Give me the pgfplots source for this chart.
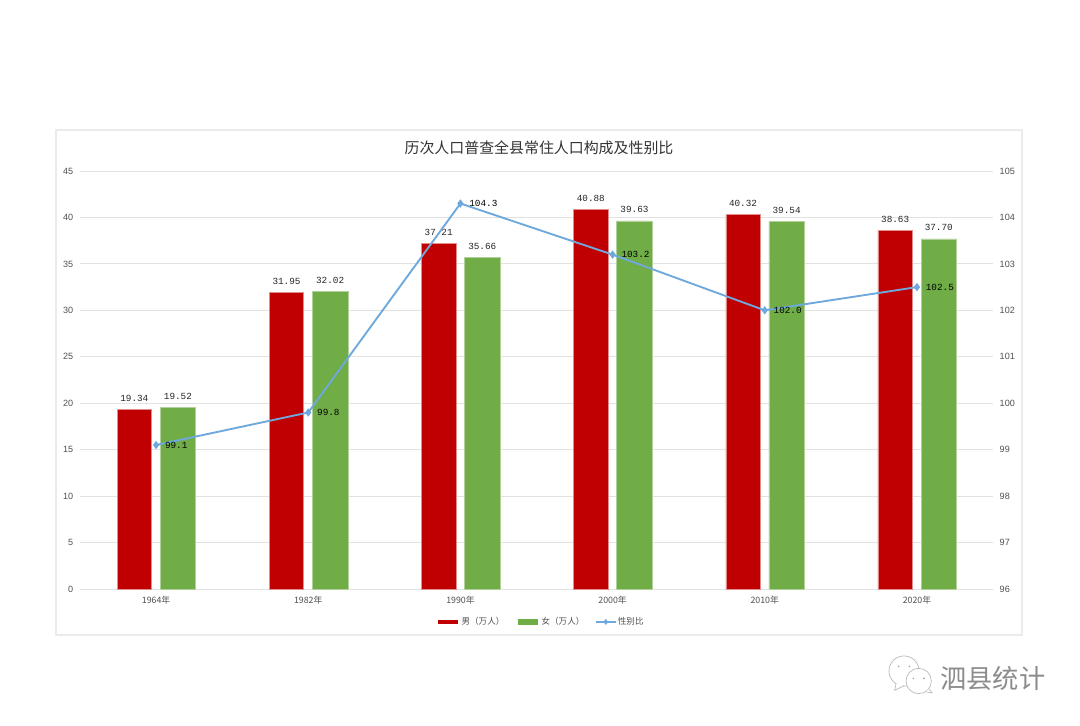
\documentclass[border=0pt]{standalone}
\usepackage{fontspec}
\setmainfont{Liberation Sans}
\newfontfamily\cjk{Noto Sans CJK SC}
\newfontfamily\lab{Liberation Mono}
\usepackage{pgfplots}
\pgfplotsset{compat=1.18}
\definecolor{redbar}{HTML}{C00000}
\definecolor{greenbar}{HTML}{70AD47}
\definecolor{blueline}{HTML}{6FA8DC}
\definecolor{gridc}{HTML}{E2E2E2}
\definecolor{framec}{HTML}{EBEBEB}
\definecolor{tickc}{HTML}{505050}
\pgfplotstableread{
x male female ratio
0 19.34 19.52 99.1
1 31.95 32.02 99.8
2 37.21 35.66 104.3
3 40.88 39.63 103.2
4 40.32 39.54 102.0
5 38.63 37.70 102.5
}\datatable
\begin{document}
\begin{tikzpicture}[x=1pt,y=1pt]
\path[use as bounding box,fill=white] (0,0) rectangle (810,543.75);
% frame: px 56..1022, y 130..635
\draw[draw=framec,line width=1pt,fill=white] (42,67.5) rectangle (766.5,446.25);
\node[text=black!80,font=\cjk\fontsize{11.2pt}{13pt}\selectfont,inner sep=0pt] at (404.25,433) {历次人口普查全县常住人口构成及性别比};
\begin{axis}[
  at={(60pt,102pt)}, anchor=south west,
  width=684.75pt, height=313.5pt, scale only axis,
  xmin=-0.5, xmax=5.5, ymin=0, ymax=45,
  clip=false,
  axis line style={draw=none},
  axis x line*=bottom, axis y line*=left,
  xtick={0,...,5},
  xticklabels={1964年,1982年,1990年,2000年,2010年,2020年},
  x tick label style={font=\cjk\fontsize{6.6pt}{8pt}\selectfont,text=tickc,yshift=-2pt},
  ytick={0,5,...,45},
  y tick label style={font=\fontsize{6.8pt}{8pt}\selectfont,text=tickc,xshift=-1.5pt},
  /pgf/number format/assume math mode=true,
  major tick length=0pt,
  ymajorgrids,
  grid style={draw=gridc,line width=0.75pt},
  legend style={at={(0.5045,-0.0606)},anchor=north,draw=none,fill=none,legend columns=3,
    font=\cjk\fontsize{6.4pt}{8pt}\selectfont,text=tickc,
    nodes={inner xsep=1pt},
    /tikz/every even column/.append style={column sep=7pt},
    inner sep=0pt},
  legend cell align=left,
  legend image code/.code={\draw[mark repeat=2,mark phase=2,#1] plot coordinates {(0pt,0pt) (7.5pt,0pt) (15pt,0pt)};},
  nodes near coords,
  every node near coord/.append style={font=\lab\fontsize{7pt}{8pt}\selectfont,text=black!85,
    /pgf/number format/fixed,/pgf/number format/fixed zerofill,/pgf/number format/precision=2,
    /pgf/number format/assume math mode=true,yshift=2.5pt},
]
\addlegendimage{redbar,line width=3pt}
\addlegendentry{男（万人）}
\addlegendimage{greenbar,line width=4pt}
\addlegendentry{女（万人）}
\addlegendimage{blueline,line width=1.2pt,mark=diamond*,mark size=1.3pt}
\addlegendentry{性别比}
\addplot[ybar,bar width=25.8pt,bar shift=-16.3pt,fill=redbar,draw=redbar!45,line width=0.4pt,
  every node near coord/.append style={xshift=-16.3pt}] table[x=x,y=male]{\datatable};
\addplot[ybar,bar width=26.6pt,bar shift=16.4pt,fill=greenbar,draw=greenbar!55,line width=0.4pt,
  every node near coord/.append style={xshift=16.4pt}] table[x=x,y=female]{\datatable};
\end{axis}
\begin{axis}[
  at={(60pt,102pt)}, anchor=south west,
  width=684.75pt, height=313.5pt, scale only axis,
  xmin=-0.5, xmax=5.5, ymin=96, ymax=105,
  clip=false,
  axis line style={draw=none},
  axis x line=none, axis y line*=right,
  ytick={96,...,105},
  y tick label style={font=\fontsize{6.8pt}{8pt}\selectfont,text=tickc,xshift=1.5pt},
  /pgf/number format/assume math mode=true,
  major tick length=0pt,
]
\addplot[blueline,line width=1.4pt,mark=diamond*,mark size=2pt,
  mark options={fill=blueline,draw=blueline},
  nodes near coords,
  every node near coord/.append style={anchor=west,font=\lab\fontsize{7pt}{8pt}\selectfont,text=black,
    /pgf/number format/fixed,/pgf/number format/fixed zerofill,/pgf/number format/precision=1,
    /pgf/number format/assume math mode=true,xshift=5pt,yshift=0pt,inner sep=1pt},
] table[x=x,y=ratio]{\datatable};
\end{axis}
% watermark
\begin{scope}[draw=black!28,line width=0.5pt,fill=white]
\draw[fill=white] (678,40.5) circle (11.3pt);
\draw[fill=white] (672,31) -- (671,26) -- (678,29.5);
\draw[fill=white] (689,33) circle (9.5pt);
\draw[fill=white] (694,25) -- (699,24) -- (697,27);
\fill[black!35] (674,44) circle (0.7pt) (682,44) circle (0.7pt) (685,35) circle (0.7pt) (693,35) circle (0.7pt);
\end{scope}
\node[text=black!45,font=\cjk\fontsize{19.7pt}{22pt}\selectfont,inner sep=0pt,anchor=west] at (705,35) {泗县统计};
\end{tikzpicture}
\end{document}
